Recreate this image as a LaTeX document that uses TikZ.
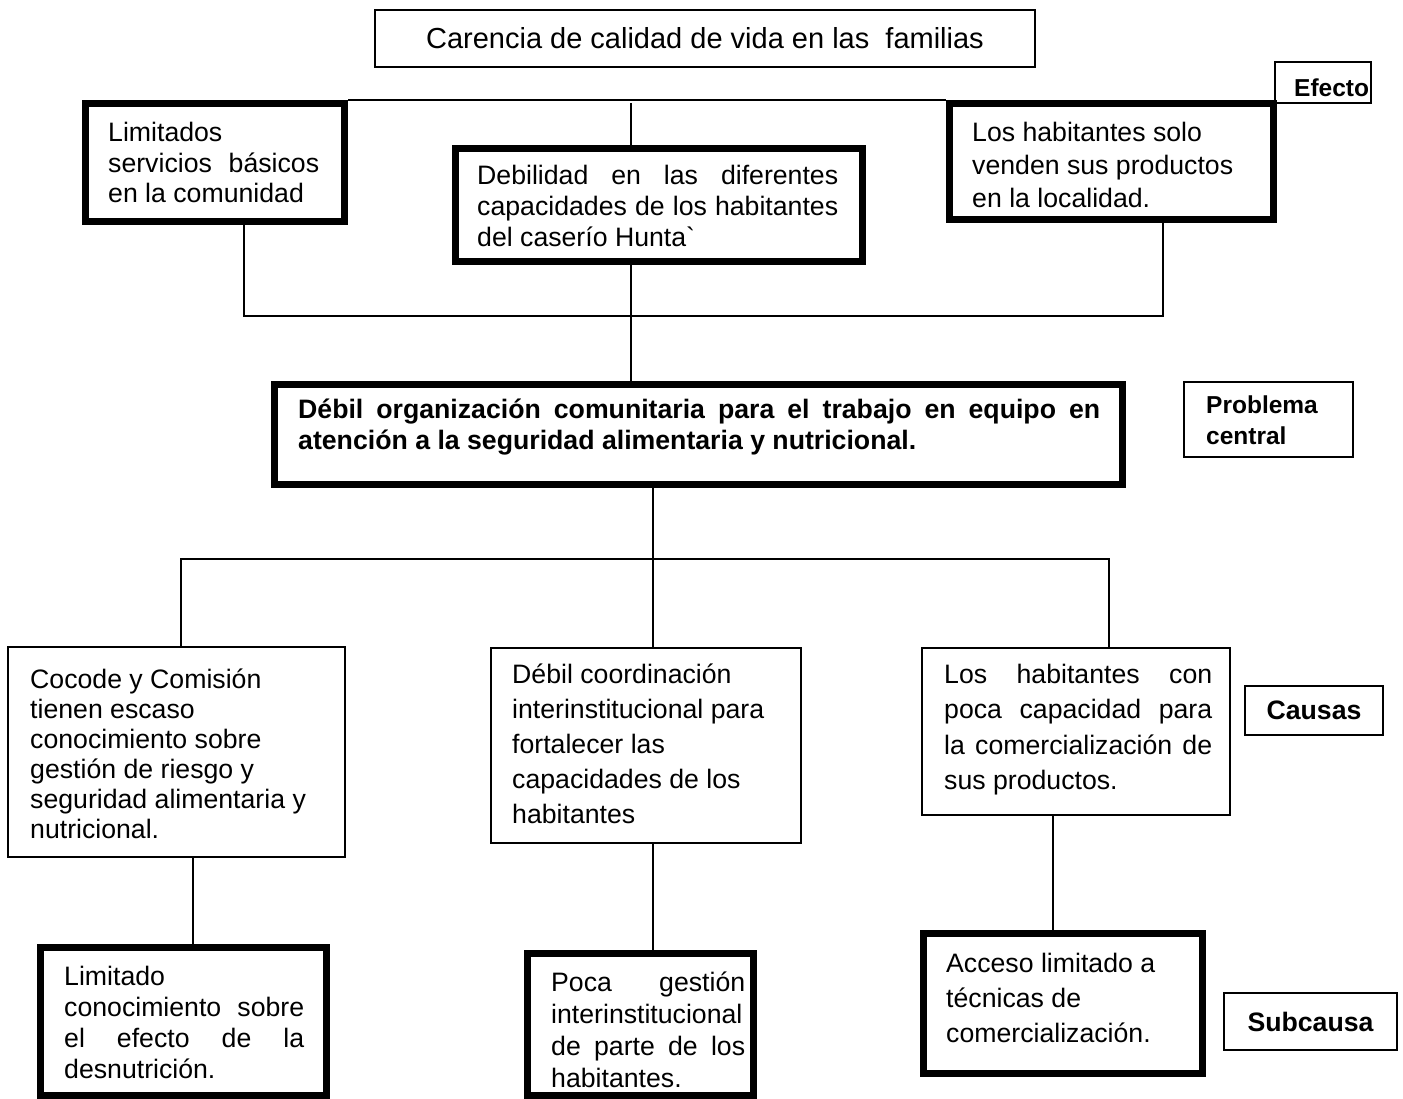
\documentclass[tikz,border=0pt]{standalone}
\usepackage{fontspec}
\setmainfont{Liberation Sans}

\newcommand{\jl}[2]{\makebox[#1pt][s]{#2}}

\tikzset{
    thinbox/.style={draw=black, line width=2pt, inner sep=0pt},
    thickbox/.style={draw=black, line width=7pt, inner sep=0pt},
    link/.style={black, line width=2pt},
    txt/.style={anchor=base west, inner sep=0pt, align=justify, font=\fontsize{26.67}{#1}\selectfont},
    btxt/.style={txt=#1, font=\fontsize{26.67}{#1}\selectfont\bfseries},
    lbl/.style={anchor=base west, inner sep=0pt, align=justify, font=\fontsize{24.5}{31}\selectfont\bfseries}
}

\begin{document}
\begin{tikzpicture}[x=1pt,y=-1pt]
    \useasboundingbox (0,0) rectangle (1403,1099);

    \node[thinbox, minimum width=660, minimum height=57, font=\fontsize{29}{34}\selectfont] (car) at (705,38.5) {Carencia de calidad de vida en las\ \ familias};
    \node[thinbox, minimum width=96, minimum height=41] (efe) at (1323,82.5) {};
    \node[lbl, text width=80] (efe-t) at (1294,97) {Efecto};

    \node[thickbox, minimum width=259, minimum height=118] (lim) at (215,162.5) {};
    \node[txt=30.5, text width=211] (lim-t) at (108,142) {Limitados\\ \jl{211}{servicios básicos}\\ en la comunidad};
    \node[thickbox, minimum width=407, minimum height=113] (debi) at (659,205) {};
    \node[txt=31, text width=362] (debi-t) at (477,185) {\jl{361}{Debilidad en las diferentes}\\ \jl{361}{capacidades de los habitantes}\\ del caserío Hunta\textasciigrave};
    \node[thickbox, minimum width=324, minimum height=116] (sol) at (1111.5,161.5) {};
    \node[txt=33, text width=290] (sol-t) at (972,142) {Los habitantes solo\\ venden sus productos\\ en la localidad.};

    \node[thickbox, minimum width=848, minimum height=100] (cen) at (698.5,434.5) {};
    \node[btxt=31, text width=802] (cen-t) at (298,418) {\jl{802}{Débil organización comunitaria para el trabajo en equipo en}\\ atención a la seguridad alimentaria y nutricional.};
    \node[thinbox, minimum width=169, minimum height=75] (pro) at (1268.5,419.5) {};
    \node[lbl, text width=140] (pro-t) at (1206,413) {Problema\\ central};

    \node[thinbox, minimum width=337, minimum height=210] (coc) at (176.5,752) {};
    \node[txt=30, text width=300] (coc-t) at (30,688) {Cocode y Comisión\\ tienen escaso\\ conocimiento sobre\\ gestión de riesgo y\\ seguridad alimentaria y\\ nutricional.};
    \node[thinbox, minimum width=310, minimum height=195] (coo) at (646,745.5) {};
    \node[txt=35, text width=280] (coo-t) at (512,683) {Débil coordinación\\ interinstitucional para\\ fortalecer las\\ capacidades de los\\ habitantes};
    \node[thinbox, minimum width=308, minimum height=167] (hab) at (1076,731.5) {};
    \node[txt=35.5, text width=268] (hab-t) at (944,683) {\jl{268}{Los habitantes con}\\ \jl{268}{poca capacidad para}\\ \jl{268}{la comercialización de}\\ sus productos.};
    \node[thinbox, minimum width=138, minimum height=49, font=\fontsize{26.67}{31}\selectfont\bfseries] (cau) at (1314,710.5) {Causas};

    \node[thickbox, minimum width=286, minimum height=148] (lmt) at (183.5,1021.5) {};
    \node[txt=31, text width=240] (lmt-t) at (64,985) {Limitado\\ \jl{240}{conocimiento sobre}\\ \jl{240}{el efecto de la}\\ desnutrición.};
    \node[thickbox, minimum width=226, minimum height=142] (poc) at (640.5,1024.5) {};
    \node[txt=32, text width=194] (poc-t) at (551,991) {\jl{194}{Poca gestión}\\ interinstitucional\\ \jl{194}{de parte de los}\\ habitantes.};
    \node[thickbox, minimum width=279, minimum height=140] (acc) at (1063,1003.5) {};
    \node[txt=35, text width=240] (acc-t) at (946,972) {Acceso limitado a\\ técnicas de\\ comercialización.};
    \node[thinbox, minimum width=173, minimum height=57, font=\fontsize{26.67}{31}\selectfont\bfseries] (sub) at (1310.5,1021.5) {Subcausa};

    \coordinate (tspine) at (631,103);
    \coordinate (lb) at (244,316);
    \coordinate (mb) at (631,316);
    \coordinate (rb) at (1163,316);
    \coordinate (cb) at (653,559);
    \coordinate (cl) at (181,559);
    \coordinate (cr) at (1109,559);
    \coordinate (s1) at (193,900);
    \coordinate (s3) at (1053,900);

    \draw[link] (lim.north east) -- (lim.north east -| sol.west);
    \draw[link] (tspine) -- (tspine |- debi.north);
    \draw[link] (lb |- lim.south) -- (lb) -- (rb) -- (rb |- sol.south);
    \draw[link] (mb |- debi.south) -- (mb |- cen.north);

    \draw[link] (cb |- cen.south) -- (cb);
    \draw[link] (cl |- coc.north) -- (cl) -- (cr) -- (cr |- hab.north);
    \draw[link] (cb) -- (cb |- coo.north);

    \draw[link] (s1 |- coc.south) -- (s1 |- lmt.north);
    \draw[link] (cb |- coo.south) -- (cb |- poc.north);
    \draw[link] (s3 |- hab.south) -- (s3 |- acc.north);
\end{tikzpicture}
\end{document}
